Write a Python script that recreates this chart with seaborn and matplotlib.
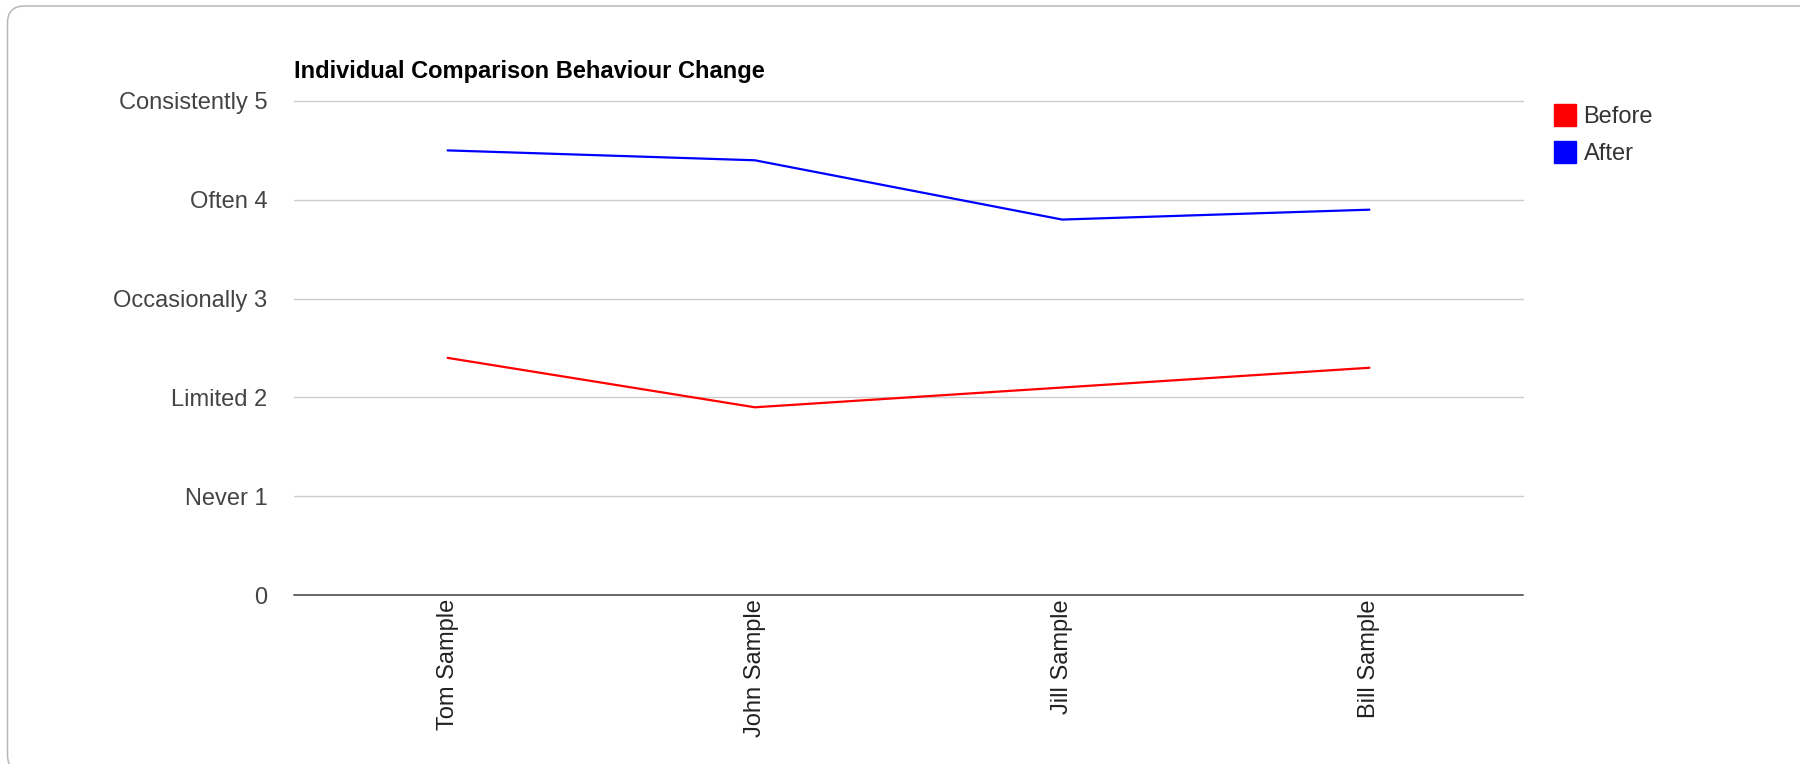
import matplotlib
matplotlib.use("Agg")
import matplotlib.pyplot as plt
from matplotlib.lines import Line2D
from matplotlib.patches import FancyBboxPatch
from matplotlib.transforms import IdentityTransform
import seaborn as sns
import pandas as pd

# Data
people = ["Tom Sample", "John Sample", "Jill Sample", "Bill Sample"]
before = [2.4, 1.9, 2.1, 2.3]
after = [4.5, 4.4, 3.8, 3.9]
series_names = ["Before", "After"]
series_colors = ["#ff0000", "#0000ff"]
y_ticks = [0, 1, 2, 3, 4, 5]
y_tick_labels = ["0", "Never 1", "Limited 2", "Occasionally 3", "Often 4", "Consistently 5"]
title = "Individual Comparison Behaviour Change"

df = pd.DataFrame({
    "person": people * 2,
    "score": before + after,
    "series": [series_names[0]] * len(people) + [series_names[1]] * len(people),
})

sns.set_theme(style="white")
plt.rcParams["font.family"] = ["Liberation Sans", "DejaVu Sans"]

W, H = 1800, 764
fig = plt.figure(figsize=(W / 100, H / 100), dpi=100)
fig.patch.set_facecolor("white")

# rounded card outline (pixel coordinates, running off the right and bottom edges)
frame = FancyBboxPatch((7.5, -8), 1830, H - 6 + 8,
                       boxstyle="round,pad=0,rounding_size=17",
                       transform=IdentityTransform(), facecolor="none",
                       edgecolor="#b8b8b8", linewidth=1.1)
fig.patches.append(frame)

left, right = 294 / W, 1523 / W
bottom, top = 1 - 595 / H, 1 - 101 / H
ax = fig.add_axes([left, bottom, right - left, top - bottom])

palette = dict(zip(series_names, series_colors))
sns.lineplot(data=df, x="person", y="score", hue="series", palette=palette,
             linewidth=1.6, ax=ax, legend=False, sort=False)

ax.set_xlim(-0.5, len(people) - 0.5)
ax.set_ylim(0, 5)
ax.set_yticks(y_ticks)
ax.set_yticklabels(y_tick_labels)
ax.set_xticks(range(len(people)))
ax.set_xticklabels(people, rotation=90, va="top", ha="center")
ax.set_xlabel("")
ax.set_ylabel("")

for y in y_ticks[1:]:
    ax.axhline(y, color="#cccccc", linewidth=1.0, zorder=0, clip_on=False)
ax.axhline(0, color="#666666", linewidth=1.4, zorder=1, clip_on=False)

for s in ["top", "right", "left", "bottom"]:
    ax.spines[s].set_visible(False)
ax.tick_params(axis="y", length=0, pad=19, labelsize=17, labelcolor="#444444")
ax.tick_params(axis="x", length=0, pad=3, labelsize=17, labelcolor="#222222")
ax.set_facecolor("white")

fig.text(left, 1 - 78 / H, title, fontsize=17, fontweight="bold",
         color="#000000", va="baseline", ha="left")

handles = [Line2D([0], [0], marker="s", linestyle="none", markersize=16.5,
                  markerfacecolor=c, markeredgecolor=c) for c in series_colors]
fig.legend(handles, series_names, loc="upper left",
           bbox_to_anchor=(1541 / W, 1 - 97 / H), frameon=False,
           fontsize=17, labelcolor="#333333", handletextpad=0.2,
           labelspacing=0.62, borderaxespad=0, handlelength=1.2)

fig.savefig("out.png", dpi=100, facecolor="white")
